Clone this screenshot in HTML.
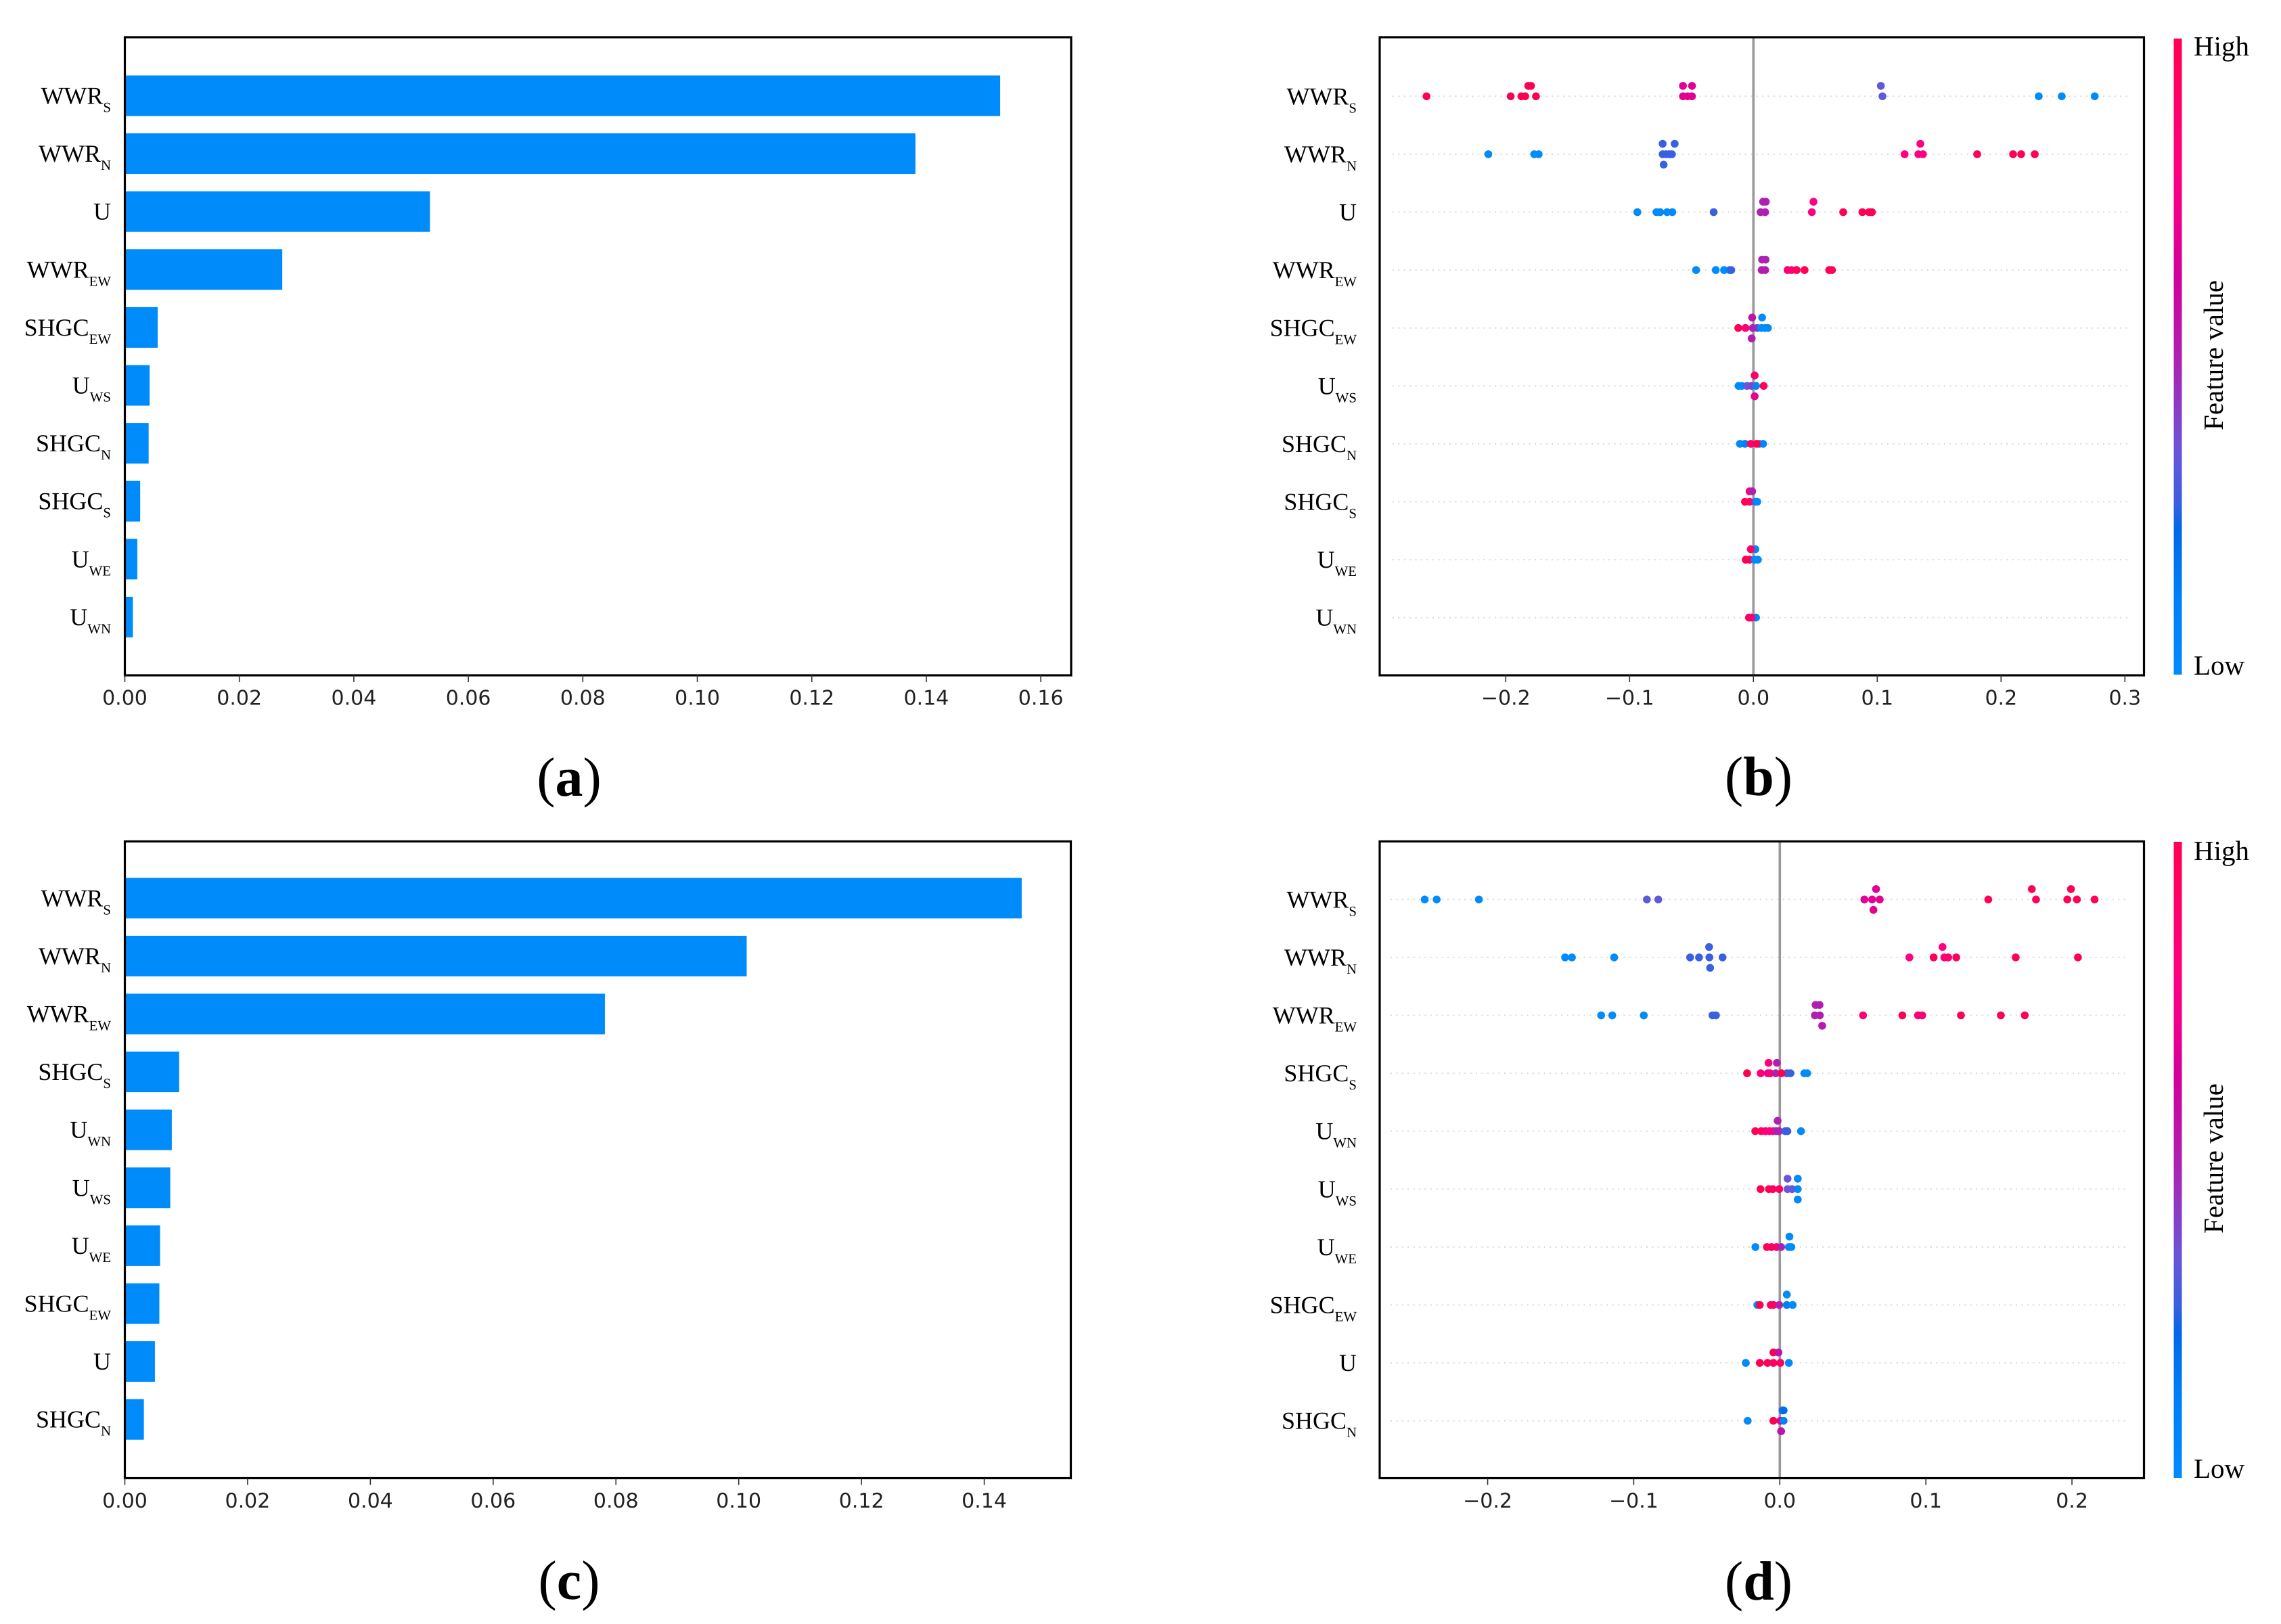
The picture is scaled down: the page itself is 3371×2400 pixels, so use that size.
<!DOCTYPE html>
<html lang="en">
<head>
<meta charset="utf-8">
<title>Feature importance and SHAP summary charts</title>
<style>
html,body{margin:0;padding:0;background:#fff;}
svg{display:block;text-rendering:geometricPrecision;}
.tick-text{font-family:"DejaVu Sans",sans-serif;font-size:30px;fill:#222;text-anchor:middle;}
.cat-text{font-family:"Liberation Serif",serif;font-size:36px;fill:#000;text-anchor:end;}
.cb-text{font-family:"Liberation Serif",serif;font-size:41px;fill:#000;}
.caption{font-family:"Liberation Serif",serif;font-size:82px;fill:#000;text-anchor:middle;}
.caption tspan{font-weight:bold;}
</style>
</head>
<body>
<svg id="chart" xmlns="http://www.w3.org/2000/svg" width="3371" height="2400" viewBox="0 0 3371 2400">
  <rect x="0" y="0" width="3371" height="2400" fill="#fff"/>
  <defs id="defs"></defs>
  <g id="panel-a"></g>
  <g id="panel-b"></g>
  <g id="panel-c"></g>
  <g id="panel-d"></g>

  <text class="caption" x="841" y="1176">(<tspan>a</tspan>)</text>
  <text class="caption" x="2599" y="1175">(<tspan>b</tspan>)</text>
  <text class="caption" x="841" y="2363">(<tspan>c</tspan>)</text>
  <text class="caption" x="2599" y="2364">(<tspan>d</tspan>)</text>

  <text class="cb-text" x="3242" y="82">High</text>
  <text class="cb-text" x="3242" y="997">Low</text>
  <text class="cb-text" text-anchor="middle" transform="translate(3285 525) rotate(-90)">Feature value</text>
  <text class="cb-text" x="3242" y="1271">High</text>
  <text class="cb-text" x="3242" y="2184">Low</text>
  <text class="cb-text" text-anchor="middle" transform="translate(3285 1712) rotate(-90)">Feature value</text>
</svg>

<script>
// ---------- Panel (a) data ----------
const categoriesA = ['WWR_S','WWR_N','U','WWR_EW','SHGC_EW','U_WS','SHGC_N','SHGC_S','U_WE','U_WN'];
const importanceA = [0.1529,0.1381,0.0533,0.0275,0.00574,0.00433,0.00416,0.00268,0.00218,0.0014];
const ticksA = [0,0.02,0.04,0.06,0.08,0.10,0.12,0.14,0.16];
const tickLabelsA = ['0.00','0.02','0.04','0.06','0.08','0.10','0.12','0.14','0.16'];

// ---------- Panel (c) data ----------
const categoriesC = ['WWR_S','WWR_N','WWR_EW','SHGC_S','U_WN','U_WS','U_WE','SHGC_EW','U','SHGC_N'];
const importanceC = [0.1461,0.1013,0.0782,0.00885,0.00765,0.0074,0.00574,0.00562,0.0049,0.0031];
const ticksC = [0,0.02,0.04,0.06,0.08,0.10,0.12,0.14];
const tickLabelsC = ['0.00','0.02','0.04','0.06','0.08','0.10','0.12','0.14'];

// ---------- Panel (b) data: SHAP value, feature value, swarm layer per point ----------
const categoriesB = ['WWR_S','WWR_N','U','WWR_EW','SHGC_EW','U_WS','SHGC_N','SHGC_S','U_WE','U_WN'];
const ticksB = [-0.2,-0.1,0,0.1,0.2,0.3];
const tickLabelsB = ['\u22120.2','\u22120.1','0.0','0.1','0.2','0.3'];
const shapB = [
  [-.264,-.196,-.1874,-.1843,-.1756,-.1818,-.1796,-.0569,-.0532,-.0496,-.0569,-.0496,.1029,.1042,.2304,.249,.2756],
  [-.2141,-.177,-.1734,-.0733,-.0636,-.0733,-.0705,-.068,-.0658,-.0725,.1221,.1332,.1369,.1348,.1807,.2097,.2162,.2272],
  [-.0937,-.0783,-.0753,-.0697,-.0655,-.0321,.0078,.01,.0058,.0095,.0485,.0472,.0725,.088,.0934,.0957],
  [-.0463,-.0304,-.0237,-.0192,-.0179,.007,.0098,.0067,.0095,.0276,.0308,.0349,.0413,.0612,.0634],
  [-.001,.007,-.0122,-.0064,.0031,.0095,.0117,.0064,-.0005,-.0014],
  [.001,-.012,-.0094,-.0052,-.0016,.0021,.0083,.001],
  [-.0109,-.0068,.0078,.0047,-.0021,.0026],
  [-.0031,-.001,-.0068,-.0031,.0016,.0031],
  [.0016,-.0021,-.0062,-.0031,.001,.0036],
  [.0021,-.0036,-.0016]
];
const featureB = [
  [.97,1,1,1,1,1,1,.68,.68,.68,.68,.68,.33,.33,0,0,0],
  [0,0,0,.27,.27,.27,.27,.27,.27,.27,.8,.8,.8,.8,.97,.97,.97,.97],
  [0,0,0,0,0,.27,.5,.5,.5,.5,.8,.8,.97,.97,.97,.97],
  [0,0,0,.05,.27,.5,.5,.5,.5,.85,.85,.95,.97,.97,.97],
  [.55,0,1,.85,.27,0,0,0,.5,.52],
  [.9,0,0,.35,.4,.05,.95,.7],
  [0,.1,.05,.05,.9,1],
  [.9,.5,1,.9,.27,0],
  [.05,.9,1,.95,.05,0],
  [.05,1,.85]
];
const layerB = [
  [0,0,0,0,0,1,1,0,0,0,1,1,1,0,0,0,0],
  [0,0,0,1,1,0,0,0,0,-1,0,0,0,1,0,0,0,0],
  [0,0,0,0,0,0,1,1,0,0,1,0,0,0,0,0],
  [0,0,0,0,0,1,1,0,0,0,0,0,0,0,0],
  [1,1,0,0,0,0,0,0,0,-1],
  [1,0,0,0,0,0,0,-1],
  [0,0,0,0,0,0],
  [1,1,0,0,0,0],
  [1,1,0,0,0,0],
  [0,0,0]
];

// ---------- Panel (d) data ----------
const categoriesD = ['WWR_S','WWR_N','WWR_EW','SHGC_S','U_WN','U_WS','U_WE','SHGC_EW','U','SHGC_N'];
const ticksD = [-0.2,-0.1,0,0.1,0.2];
const tickLabelsD = ['\u22120.2','\u22120.1','0.0','0.1','0.2'];
const shapD = [
  [-.2431,-.2349,-.206,-.091,-.0832,.0659,.0579,.0632,.0684,.0641,.1725,.1754,.1427,.1993,.1968,.2034,.2155],
  [-.147,-.1423,-.1134,-.0614,-.0553,-.0482,-.0392,-.0484,-.0477,.0887,.1053,.1126,.1153,.1208,.1114,.1615,.2041],
  [-.1223,-.1147,-.0931,-.0461,-.0437,.0245,.0272,.024,.0274,.029,.057,.0839,.0946,.0975,.124,.1513,.1677],
  [-.0224,-.0131,-.0082,-.0066,-.0028,.0049,.0073,.0168,.0187,.0011,-.0077,-.002],
  [-.0128,-.0099,-.0071,-.0045,-.0168,-.0025,-.0005,.0037,.0052,.0145,-.0015],
  [.0053,.0123,-.0132,-.0075,-.0048,-.0004,.0053,.0084,.0123,.0123],
  [.0066,-.0167,-.0088,-.0057,-.0022,.0009,.0062,.0079],
  [.0048,-.0154,-.0137,-.0062,-.0044,-.0004,.0048,.0088],
  [-.0044,-.0009,-.0233,-.0137,-.0084,-.0044,.0004,.0062],
  [.0018,.0026,-.022,-.0044,.0004,.0026,.0009]
];
const featureD = [
  [0,0,0,.33,.33,.68,.68,.68,.68,.68,.95,.95,.97,.97,.97,.97,.97],
  [0,0,0,.27,.27,.27,.27,.27,.27,.8,.95,.85,.85,.95,.8,.97,.97],
  [0,0,0,.27,.27,.5,.5,.5,.5,.52,.85,.97,.85,.85,.97,.97,.97],
  [1,.85,.7,.85,.5,.27,.27,0,0,1,.85,.5],
  [.9,.85,.8,.85,1,.5,.5,.27,.27,0,.5],
  [.35,0,1,.97,.95,.9,.35,.35,0,0],
  [0,0,1,.95,.9,.5,0,0],
  [0,0,1,.95,.95,.5,.1,0],
  [1,.55,0,1,.97,.9,.95,0],
  [.27,.2,0,1,.7,.1,.55]
];
const layerD = [
  [0,0,0,0,0,1,0,0,0,-1,1,0,0,1,0,0,0],
  [0,0,0,0,0,0,0,1,-1,0,0,0,0,0,1,0,0],
  [0,0,0,0,0,1,1,0,0,-1,0,0,0,0,0,0,0],
  [0,0,0,0,0,0,0,0,0,0,1,1],
  [0,0,0,0,0,0,0,0,0,0,1],
  [1,1,0,0,0,0,0,0,0,-1],
  [1,0,0,0,0,0,0,0],
  [1,0,0,0,0,0,0,0],
  [1,1,0,0,0,0,0,0],
  [1,1,0,0,0,0,-1]
];

// ---------- Rendering ----------
const SVG_NS = 'http://www.w3.org/2000/svg';
const ROW_STEP = 85.6;
const BAR_HEIGHT = 60;
const LAYER_STEP = 15.4;
const DOT_RADIUS = 5.8;

function make(parent, tag, attrs) {
  const el = document.createElementNS(SVG_NS, tag);
  for (const k in attrs) el.setAttribute(k, attrs[k]);
  parent.appendChild(el);
  return el;
}
function linearScale(d0, d1, r0, r1) {
  return function (v) { return r0 + (v - d0) * (r1 - r0) / (d1 - d0); };
}
function hexToRgb(h) {
  return [parseInt(h.slice(1,3),16), parseInt(h.slice(3,5),16), parseInt(h.slice(5,7),16)];
}
const cmapPositions = [0, 0.12, 0.228, 0.27, 0.35, 0.5, 0.628, 0.72, 0.8, 0.9, 1];
const cmapColors = ['#008bfb','#0080f6','#0068e8','#3a60e0','#6a55d8','#b020b0','#d0009c','#f0008c','#ff0080','#ff0068','#ff0051'];
function colormap(f) {
  let i = 0;
  while (i < cmapPositions.length - 2 && f > cmapPositions[i + 1]) i++;
  const t = Math.max(0, Math.min(1, (f - cmapPositions[i]) / (cmapPositions[i + 1] - cmapPositions[i])));
  const a = hexToRgb(cmapColors[i]);
  const b = hexToRgb(cmapColors[i + 1]);
  return 'rgb(' + a.map(function (c, n) { return Math.round(c + (b[n] - c) * t); }).join(',') + ')';
}

function drawFrame(g, box) {
  const frame = make(g, 'rect', {x: box.left, y: box.top, width: box.right - box.left, height: box.bottom - box.top, fill: 'none', stroke: '#000', 'stroke-width': 3.2});
  
  
}
function drawXTicks(g, box, xScale, ticks, labels) {
  ticks.forEach(function (t, i) {
    const x = xScale(t);
    const mark = make(g, 'line', {x1: x, x2: x, y1: box.bottom, y2: box.bottom + 10, stroke: '#333', 'stroke-width': 1.6});
    
    
    const label = make(g, 'text', {x: x, y: box.bottom + 43.5, class: 'tick-text'});
    label.textContent = labels[i];
    
    
  });
}
function drawCategory(g, name, x, y) {
  const parts = name.split('_');
  const label = make(g, 'text', {x: x, y: y + 12, class: 'cat-text'});
  
  
  label.appendChild(document.createTextNode(parts[0]));
  if (parts[1]) {
    const sub = make(label, 'tspan', {dy: 12, 'font-size': 20.8});
    sub.textContent = parts[1];
  }
}

function drawBars(id, box, xDomain, firstRow, categories, values, ticks, labels) {
  const g = document.getElementById(id);
  const xScale = linearScale(xDomain[0], xDomain[1], box.left, box.right);
  categories.forEach(function (c, i) {
    const y = firstRow + i * ROW_STEP;
    const bar = make(g, 'rect', {x: xScale(0), y: y - BAR_HEIGHT / 2, width: xScale(values[i]) - xScale(0), height: BAR_HEIGHT, fill: '#008bfb'});
    
    
    drawCategory(g, c, box.left - 20.5, y);
  });
  drawFrame(g, box);
  drawXTicks(g, box, xScale, ticks, labels);
}

function drawSwarm(id, box, xDomain, firstRow, categories, shap, feature, layer, ticks, labels, guideLeft, guideRight, bar) {
  const g = document.getElementById(id);
  const xScale = linearScale(xDomain[0], xDomain[1], box.left, box.right);
  categories.forEach(function (c, i) {
    const y = firstRow + i * ROW_STEP;
    const guide = make(g, 'line', {x1: guideLeft, x2: guideRight, y1: y, y2: y, stroke: '#d8d8d8', 'stroke-width': 2, 'stroke-dasharray': '2 6.4'});
    
    
    drawCategory(g, c, box.left - 34, y);
  });
  const zero = make(g, 'line', {x1: xScale(0), x2: xScale(0), y1: box.top, y2: box.bottom, stroke: '#999', 'stroke-width': 3.6});
  
  
  categories.forEach(function (c, i) {
    const y = firstRow + i * ROW_STEP;
    shap[i].forEach(function (v, j) {
      const dot = make(g, 'circle', {cx: xScale(v), cy: y - layer[i][j] * LAYER_STEP, r: DOT_RADIUS, fill: colormap(feature[i][j])});
      
      
    });
  });
  drawFrame(g, box);
  drawXTicks(g, box, xScale, ticks, labels);
  const cb = make(g, 'rect', {x: bar.left, y: bar.top, width: bar.width, height: bar.bottom - bar.top, fill: 'url(#' + bar.grad + ')'});
  
  
}

function buildGradient(id) {
  const defs = document.getElementById('defs');
  const grad = make(defs, 'linearGradient', {id: id, x1: 0, y1: 1, x2: 0, y2: 0});
  cmapPositions.forEach(function (p, i) {
    make(grad, 'stop', {offset: p, 'stop-color': cmapColors[i]});
  });
}
buildGradient('cbar-b');
buildGradient('cbar-d');

drawBars('panel-a', {left: 184.5, right: 1583, top: 55, bottom: 998}, [0, 0.1653], 141.5, categoriesA, importanceA, ticksA, tickLabelsA);
drawBars('panel-c', {left: 184.5, right: 1582.5, top: 1243.5, bottom: 2184.5}, [0, 0.1541], 1327.3, categoriesC, importanceC, ticksC, tickLabelsC);
drawSwarm('panel-b', {left: 2039, right: 3168.5, top: 55, bottom: 998}, [-0.3018, 0.3154], 142.3, categoriesB, shapB, featureB, layerB, ticksB, tickLabelsB, 2058, 3146, {left: 3212.5, width: 12, top: 57, bottom: 997, grad: 'cbar-b'});
drawSwarm('panel-d', {left: 2039, right: 3168.5, top: 1243.5, bottom: 2184.5}, [-0.2739, 0.2493], 1329.3, categoriesD, shapD, featureD, layerD, ticksD, tickLabelsD, 2055, 3146, {left: 3212.5, width: 12, top: 1244, bottom: 2184, grad: 'cbar-d'});
</script>
</body>
</html>
